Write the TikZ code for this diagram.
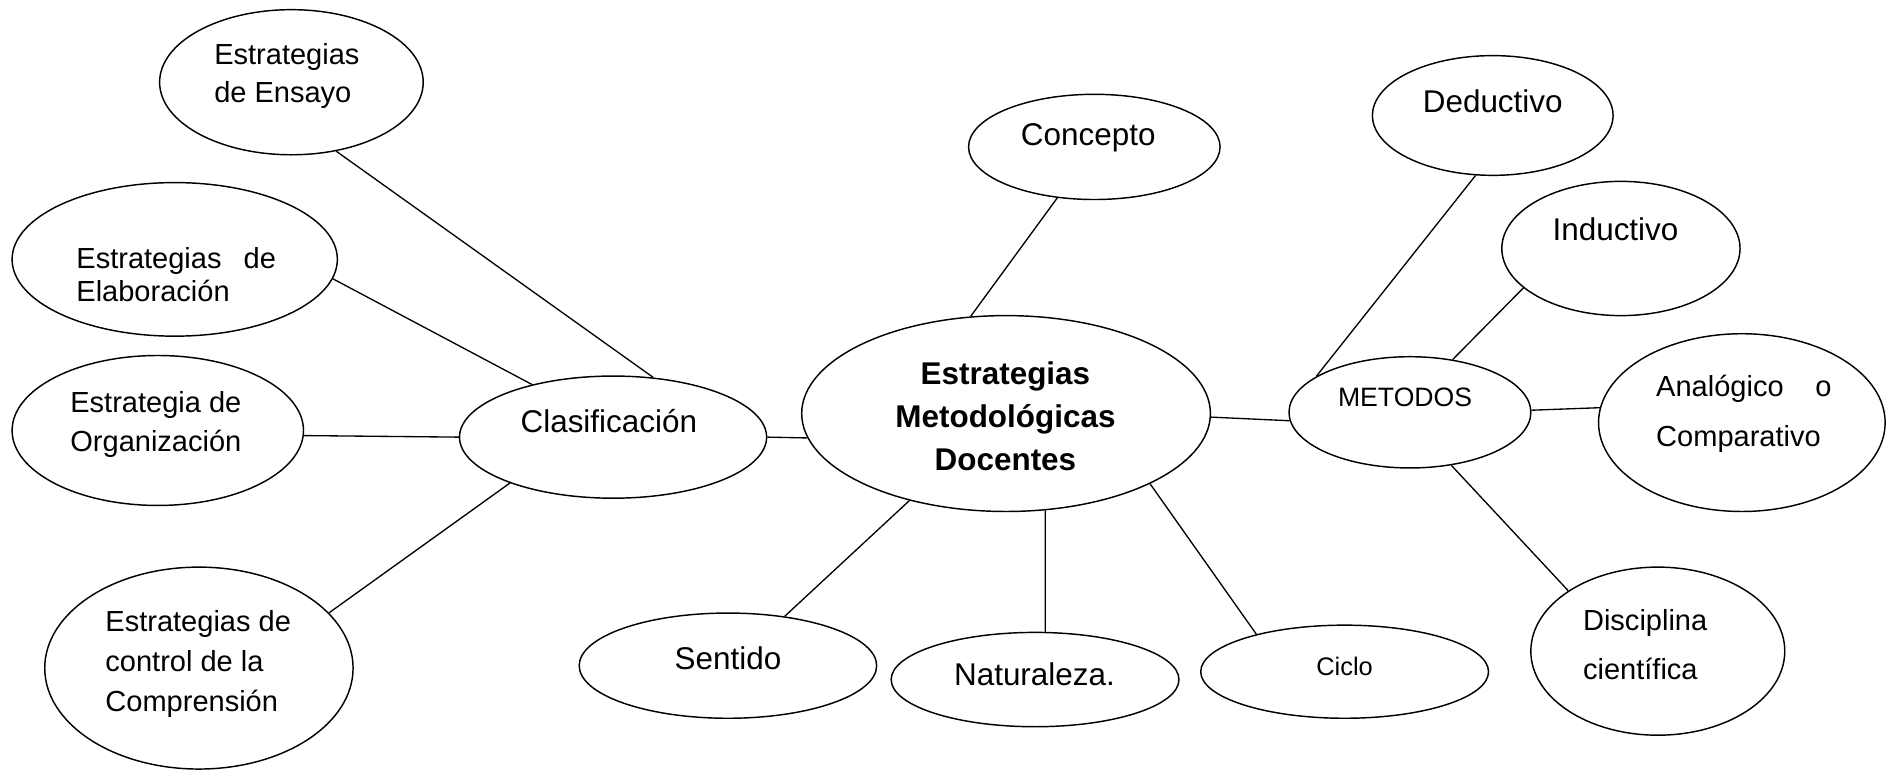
\documentclass[tikz,border=0pt]{standalone}
\usepackage{fontspec}
\setmainfont{Liberation Sans}
\usetikzlibrary{shapes.geometric}
\begin{document}
\begin{tikzpicture}[x=1pt,y=-1pt,
  ell/.style={draw, ellipse, line width=1.2pt, inner sep=0pt},
  link/.style={line width=1.1pt},
  txt/.style={inner sep=0pt, font=\fontsize{26}{30}\selectfont},
  txts/.style={inner sep=0pt, font=\fontsize{21.5}{26}\selectfont},
  txtl/.style={inner sep=0pt, anchor=west, align=left}
]
\useasboundingbox (0,0) rectangle (1568,637);

% ellipses
\node[ell, minimum width=218pt, minimum height=120pt] (ens) at (241,68) {};
\node[ell, minimum width=269pt, minimum height=127pt] (ela) at (144.5,214.5) {};
\node[ell, minimum width=241pt, minimum height=124pt] (org) at (130.5,356) {};
\node[ell, minimum width=255pt, minimum height=167pt] (com) at (164.5,552.5) {};
\node[ell, minimum width=254pt, minimum height=101pt] (cla) at (507,361.5) {};
\node[ell, minimum width=338pt, minimum height=162pt] (cen) at (832,342) {};
\node[ell, minimum width=208pt, minimum height=87pt] (con) at (905,121.5) {};
\node[ell, minimum width=246pt, minimum height=87pt] (sen) at (602,550.5) {};
\node[ell, minimum width=238pt, minimum height=78pt] (nat) at (856,562) {};
\node[ell, minimum width=238pt, minimum height=77pt] (cic) at (1112,555.5) {};
\node[ell, minimum width=200pt, minimum height=92pt] (met) at (1166,341) {};
\node[ell, minimum width=199pt, minimum height=99pt] (ded) at (1234.5,95.5) {};
\node[ell, minimum width=197pt, minimum height=111pt] (ind) at (1340.5,205.5) {};
\node[ell, minimum width=237pt, minimum height=147pt] (ana) at (1440.5,349.5) {};
\node[ell, minimum width=210pt, minimum height=139pt] (dis) at (1371,538.5) {};

% texts
\node[txtl, font=\fontsize{24}{31}\selectfont] (tens) at (177,63) {Estrategias\\de Ensayo};
\node[txtl, text width=165pt, font=\fontsize{24}{27}\selectfont] (tela) at (63,227) {Estrategias\hfill de\\Elaboración};
\node[txtl, font=\fontsize{24}{32.5}\selectfont] (torg) at (58,351) {Estrategia de\\Organización};
\node[txtl, font=\fontsize{24}{33}\selectfont] (tcom) at (87,549) {Estrategias de\\control de la\\Comprensión};
\node[txt] (tcla) at (503.5,348) {Clasificación};
\node[inner sep=0pt, align=center, font=\fontsize{26}{35.5}\selectfont\bfseries] (tcen) at (831.5,344) {Estrategias\\Metodológicas\\Docentes};
\node[txt] (tcon) at (900,114) {Concepto};
\node[txt] (tsen) at (602,544) {Sentido};
\node[txt] (tnat) at (855.5,558) {Naturaleza.};
\node[txts, font=\fontsize{21}{26}\selectfont] (tcic) at (1112,551) {Ciclo};
\node[txts, font=\fontsize{22}{26}\selectfont] (tmet) at (1162,329) {METODOS};
\node[txt] (tded) at (1234.5,84) {Deductivo};
\node[txt] (tind) at (1336,190) {Inductivo};
\node[txtl, text width=145pt, font=\fontsize{24}{41}\selectfont] (tana) at (1369.5,342) {Analógico\hfill o\\Comparativo};
\node[txtl, font=\fontsize{24}{40.5}\selectfont] (tdis) at (1309,533) {Disciplina\\científica};

% connectors
\draw[link] (ens.-57.7) -- (cla.56.8);
\draw[link] (ela.-7) -- (cla.147);
\draw[link] (org.-2.4) -- (cla.180);
\draw[link] (com.23.2) -- (cla.-156);
\draw[link] (cla.0) -- (cen.-173.6);
\draw[link] (con.-126.6) -- (cen.110.9);
\draw[link] (cen.-1.7) -- (met.-176.6);
\draw[link] (cen.-138.5) -- (sen.41);
\draw[link] (cen.-68.4) -- (nat.78.4);
\draw[link] (cen.-26.85) -- (cic.157);
\draw[link] (ded.-106.5) -- (met.159.9);
\draw[link] (ind.-158.9) -- (met.51.3);
\draw[link] (met.1.7) -- (ana.174.5);
\draw[link] (met.-52) -- (dis.146.7);
\end{tikzpicture}
\end{document}
